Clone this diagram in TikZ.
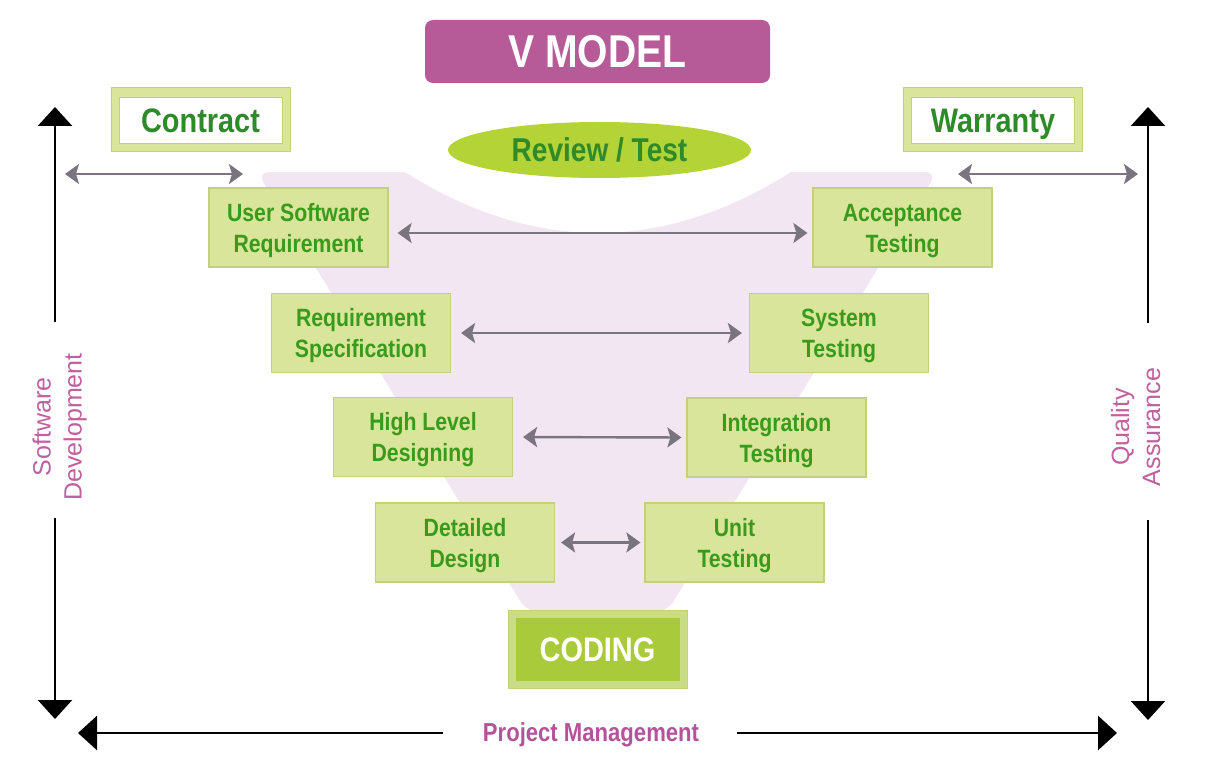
\documentclass[tikz,border=0pt]{standalone}
\usepackage{fontspec}
\setmainfont{Liberation Sans}[FakeStretch=0.85]
\newfontfamily\plainsans{Liberation Sans}
\usetikzlibrary{arrows.meta,shapes.geometric}
\definecolor{boxfill}{HTML}{D8E59B}
\definecolor{boxline}{HTML}{C2D07F}
\definecolor{boxtext}{HTML}{3A9B1B}
\definecolor{darkgreen}{HTML}{2F8A2A}
\definecolor{vmag}{HTML}{B65A98}
\definecolor{revfill}{HTML}{B3D336}
\definecolor{codefill}{HTML}{A9CB3B}
\definecolor{codeout}{HTML}{CADD86}
\definecolor{funnelcol}{HTML}{F1E6F1}
\definecolor{grayarrow}{HTML}{7A7480}
\definecolor{labelpink}{HTML}{C0609E}
\definecolor{pmcol}{HTML}{B5539A}
\begin{document}
\begin{tikzpicture}[x=1pt,y=-1pt,
  stagebox/.style={rectangle, fill=boxfill, draw=boxline, line width=1.2pt,
    minimum width=179pt, minimum height=79pt, inner sep=0pt, align=center,
    text=boxtext, font=\bfseries\fontsize{25}{31}\selectfont,
    text height=49pt, text depth=0pt},
  frameouter/.style={rectangle, fill=boxfill, draw=boxline, line width=1pt,
    minimum width=179pt, minimum height=64pt, inner sep=0pt},
  frameinner/.style={rectangle, fill=white, draw=boxline, line width=0.8pt,
    minimum width=163pt, minimum height=46pt, inner sep=0pt, text=darkgreen,
    font=\bfseries\fontsize{34}{40}\selectfont, text height=24.3pt, text depth=0pt},
  linkarrow/.style={draw=grayarrow, line width=2.4pt,
    {Stealth[length=14pt,width=20pt,inset=3pt]}-{Stealth[length=14pt,width=20pt,inset=3pt]}},
  axisarrow/.style={draw=black, line width=2.4pt, -{Triangle[length=19pt,width=34pt]}},
  sidelabel/.style={text=labelpink, font=\plainsans\fontsize{25}{31}\selectfont,
    align=center, rotate=90, inner sep=0pt, text height=49pt, text depth=0pt}
]
\useasboundingbox (0,0) rectangle (1210,765);
\fill[white] (0,0) rectangle (1210,765);

% funnel background
\fill[funnelcol, rounded corners=12pt] (257,172) -- (937,172) -- (667,612) -- (527,612) -- cycle;
\fill[white] (383,157) parabola bend (598,233) (813,157) -- cycle;

% title and review
\node[rectangle, rounded corners=8pt, fill=vmag, minimum width=345pt, minimum height=63pt,
  inner sep=0pt, text=white, font=\bfseries\fontsize{46}{50}\selectfont,
  text height=33pt, text depth=0pt] (vmodel) at (597.5,51.5) {V MODEL};
\node[ellipse, fill=revfill, minimum width=303pt, minimum height=56pt, inner sep=0pt,
  text=darkgreen, font=\bfseries\fontsize{33}{38}\selectfont,
  text height=23.6pt, text depth=0pt] (review) at (599.5,150) {Review / Test};

% contract and warranty
\node[frameouter] (contractbox) at (200.5,120) {};
\node[frameinner] (contract) at (contractbox.center) {Contract};
\node[frameouter] (warrantybox) at (993,120) {};
\node[frameinner] (warranty) at (warrantybox.center) {Warranty};

% stages
\node[stagebox] (usr) at (298.5,227.5) {User Software\\Requirement};
\node[stagebox] (at) at (902.5,227.5) {Acceptance\\Testing};
\node[stagebox] (rs) at (361,333) {Requirement\\Specification};
\node[stagebox] (st) at (839,333) {System\\Testing};
\node[stagebox] (hld) at (423,437) {High Level\\Designing};
\node[stagebox] (it) at (776.5,437.5) {Integration\\Testing};
\node[stagebox] (dd) at (465,542.5) {Detailed\\Design};
\node[stagebox] (ut) at (734.5,542.5) {Unit\\Testing};

% coding
\node[rectangle, fill=codeout, draw=boxline, line width=1pt, minimum width=179pt,
  minimum height=78pt, inner sep=0pt] (codingbox) at (597.5,649) {};
\node[rectangle, fill=codefill, minimum width=164pt, minimum height=63pt, inner sep=0pt,
  text=white, font=\bfseries\fontsize{34}{40}\selectfont,
  text height=24.3pt, text depth=0pt] (coding) at (codingbox.center) {CODING};

% gray links
\coordinate (c1) at (65,174);
\coordinate (c2) at (243,174);
\coordinate (w1) at (958,174);
\coordinate (w2) at (1138,174);
\draw[linkarrow] (c1) -- (c2);
\draw[linkarrow] (w1) -- (w2);
\draw[linkarrow, shorten <=9pt, shorten >=5pt] ([yshift=-5.5pt]usr.east) -- ([yshift=-5.5pt]at.west);
\draw[linkarrow, shorten <=10pt, shorten >=7pt] (rs.east) -- (st.west);
\draw[linkarrow, shorten <=10pt, shorten >=5pt] (hld.east) -- (it.west);
\draw[linkarrow, shorten <=6pt, shorten >=4pt] (dd.east) -- (ut.west);

% side labels and axes
\node[sidelabel] (sd) at (57,427) {Software\\Development};
\node[sidelabel] (qa) at (1135.5,427) {Quality\\Assurance};
\node[text=pmcol, font=\bfseries\fontsize{26}{30}\selectfont, inner sep=0pt,
  text height=18.6pt, text depth=0pt] (pm) at (591,732) {Project Management};

\coordinate (sdA) at (55,322);
\coordinate (sdT) at (55,107);
\coordinate (sdB) at (55,518);
\coordinate (sdD) at (55,719);
\draw[axisarrow] (sdA) -- (sdT);
\draw[axisarrow] (sdB) -- (sdD);

\coordinate (qaA) at (1148,323);
\coordinate (qaT) at (1148,107);
\coordinate (qaB) at (1148,520);
\coordinate (qaD) at (1148,720);
\draw[axisarrow] (qaA) -- (qaT);
\draw[axisarrow] (qaB) -- (qaD);

\coordinate (pmA) at (443,733);
\coordinate (pmL) at (78,733);
\coordinate (pmB) at (737,733);
\coordinate (pmR) at (1117,733);
\draw[axisarrow] (pmA) -- (pmL);
\draw[axisarrow] (pmB) -- (pmR);
\end{tikzpicture}
\end{document}
